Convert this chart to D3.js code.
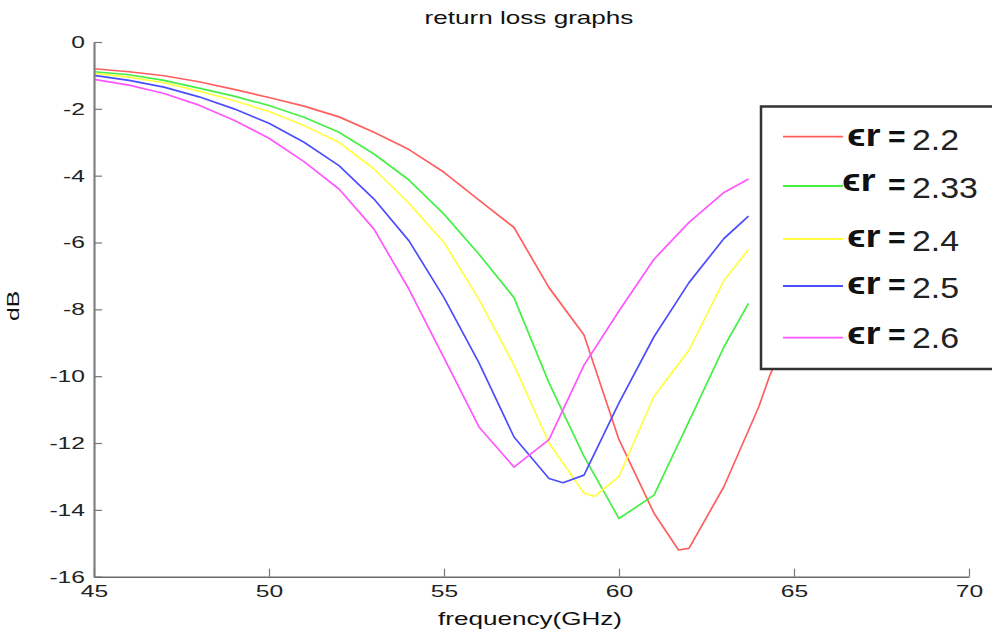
<!DOCTYPE html>
<html>
<head>
<meta charset="utf-8">
<script src="https://cdn.jsdelivr.net/npm/d3@7"></script>
<style>
  html, body { margin: 0; padding: 0; background: #fff; }
  svg { display: block; }
  text { font-family: "Liberation Sans", Arial, sans-serif; }
</style>
</head>
<body>
<svg id="chart" width="992" height="634"></svg>
<script>
// ---------------- data ----------------
const chartTitle = "return loss graphs";
const xLabel = "frequency(GHz)";
const yLabel = "dB";
const xTicks = [45, 50, 55, 60, 65, 70];
const yTicks = [0, -2, -4, -6, -8, -10, -12, -14, -16];
const legendValues = ["2.2", "2.33", "2.4", "2.5", "2.6"];
const seriesColors = ["#ff5e5e", "#44f044", "#ffff44", "#4c4cff", "#ff55ff"];

const freqRed = [45, 46, 47, 48, 49, 50, 51, 52, 53, 54, 55, 56, 57, 58, 59, 60, 61, 61.7, 62, 63, 64, 64.3, 64.6];
const lossRed = [-0.8, -0.89, -1.01, -1.19, -1.42, -1.66, -1.92, -2.24, -2.7, -3.22, -3.9, -4.73, -5.55, -7.35, -8.77, -11.9, -14.1, -15.2, -15.15, -13.3, -10.9, -10.0, -9.3];

const freqGreen = [45, 46, 47, 48, 49, 50, 51, 52, 53, 54, 55, 56, 57, 58, 59, 60, 61, 62, 63, 63.7];
const lossGreen = [-0.89, -0.98, -1.15, -1.38, -1.62, -1.9, -2.25, -2.7, -3.35, -4.13, -5.15, -6.35, -7.65, -10.2, -12.4, -14.26, -13.56, -11.35, -9.12, -7.82];

const freqYellow = [45, 46, 47, 48, 49, 50, 51, 52, 53, 54, 55, 56, 57, 58, 59, 59.3, 60, 61, 62, 63, 63.7];
const lossYellow = [-0.94, -1.05, -1.22, -1.47, -1.75, -2.08, -2.5, -3.0, -3.8, -4.83, -6.0, -7.7, -9.67, -12.0, -13.5, -13.6, -13.0, -10.6, -9.22, -7.13, -6.21];

const freqBlue = [45, 46, 47, 48, 49, 50, 51, 52, 53, 54, 55, 56, 57, 58, 58.4, 59, 60, 61, 62, 63, 63.7];
const lossBlue = [-1.0, -1.15, -1.35, -1.64, -2.0, -2.43, -3.0, -3.7, -4.7, -5.95, -7.65, -9.6, -11.82, -13.06, -13.19, -12.96, -10.8, -8.82, -7.2, -5.88, -5.21];

const freqMagenta = [45, 46, 47, 48, 49, 50, 51, 52, 53, 54, 55, 56, 57, 58, 59, 60, 61, 62, 63, 63.7];
const lossMagenta = [-1.12, -1.29, -1.54, -1.89, -2.34, -2.88, -3.58, -4.4, -5.6, -7.4, -9.45, -11.52, -12.72, -11.9, -9.67, -8.05, -6.5, -5.4, -4.5, -4.1];

const seriesFreq = [freqRed, freqGreen, freqYellow, freqBlue, freqMagenta];
const seriesLoss = [lossRed, lossGreen, lossYellow, lossBlue, lossMagenta];

// ---------------- layout ----------------
const svg = d3.select("#chart");
const x = d3.scaleLinear().domain([45, 70]).range([94, 969]);
const y = d3.scaleLinear().domain([-16, 0]).range([576.7, 42]);
const SX = 1.45;

// lines
const line = d3.line().x(d => x(d[0])).y(d => y(d[1]));
seriesFreq.forEach((fr, i) => {
  const pts = fr.map((f, j) => [f, seriesLoss[i][j]]);
  svg.append("path")
    .attr("d", line(pts))
    .attr("fill", "none")
    .attr("stroke", seriesColors[i])
    .attr("stroke-width", 1.7)
    .attr("stroke-linejoin", "round");
});

// axes
const fmt = d => String(d);
const yAxis = d3.axisLeft(y).tickValues(yTicks).tickFormat(fmt).tickSize(-8).tickSizeOuter(0).tickPadding(9);
const gy = svg.append("g").attr("transform", "translate(94,0)").call(yAxis);
gy.select(".domain").attr("stroke", "#808080").attr("stroke-width", 2.2);
gy.selectAll(".tick line").attr("stroke", "#777").attr("stroke-width", 1.2);
gy.selectAll(".tick text")
  .attr("font-size", 17).attr("fill", "#222")
  .style("font-family", "'Liberation Sans', Arial, sans-serif")
  .attr("x", -9 / SX)
  .attr("transform", `scale(${SX},1)`);

const xAxis = d3.axisBottom(x).tickValues(xTicks).tickFormat(fmt).tickSize(-8).tickSizeOuter(0).tickPadding(8);
const gx = svg.append("g").attr("transform", "translate(0,576.7)").call(xAxis);
gx.select(".domain").attr("stroke", "#6a6a6a").attr("stroke-width", 1.5);
gx.selectAll(".tick line").attr("stroke", "#777").attr("stroke-width", 1.2);
gx.selectAll(".tick text")
  .attr("font-size", 17).attr("fill", "#222")
  .style("font-family", "'Liberation Sans', Arial, sans-serif")
  .attr("transform", `scale(${SX},1)`);

// title & labels
function stretchedText(tx, ty, str, size, sx) {
  return svg.append("text")
    .attr("transform", `translate(${tx},${ty}) scale(${sx},1)`)
    .attr("text-anchor", "middle")
    .attr("font-size", size)
    .attr("fill", "#111")
    .text(str);
}
stretchedText(529, 24, chartTitle, 18, 1.45);
stretchedText(530, 625, xLabel, 18, 1.45);
svg.append("text")
  .attr("transform", "translate(19,306) rotate(-90) scale(1.45,1)")
  .attr("text-anchor", "middle").attr("font-size", 17).attr("fill", "#111")
  .text(yLabel);

// legend
const lg = svg.append("g");
lg.append("rect").attr("x", 761).attr("y", 106.5).attr("width", 260).attr("height", 262.5)
  .attr("fill", "#fff").attr("stroke", "#333").attr("stroke-width", 2.5);
const rowLineY = [136.7, 186, 239, 286, 337.7];
const rowBase = [149.5, 198, 251, 298, 348];
const epsDy = [-4, -7, -4, -4, -4];
const epsX = [847, 842, 847, 847, 847];
legendValues.forEach((v, i) => {
  lg.append("line").attr("x1", 783).attr("x2", 843)
    .attr("y1", rowLineY[i]).attr("y2", rowLineY[i])
    .attr("stroke", seriesColors[i]).attr("stroke-width", 1.8);
  lg.append("text")
    .attr("transform", `translate(${epsX[i]},${rowBase[i] + epsDy[i]}) scale(1.25,1)`)
    .attr("font-size", 31).attr("font-weight", "bold").attr("fill", "#111")
    .text("\u03F5r");
  lg.append("text")
    .attr("transform", `translate(888,${rowBase[i] - 3})`)
    .attr("font-size", 30).attr("font-weight", "bold").attr("fill", "#111")
    .text("=");
  lg.append("text")
    .attr("transform", `translate(912,${rowBase[i]}) scale(1.13,1)`)
    .attr("font-size", 30).attr("fill", "#222")
    .text(v);
});
</script>
</body>
</html>
